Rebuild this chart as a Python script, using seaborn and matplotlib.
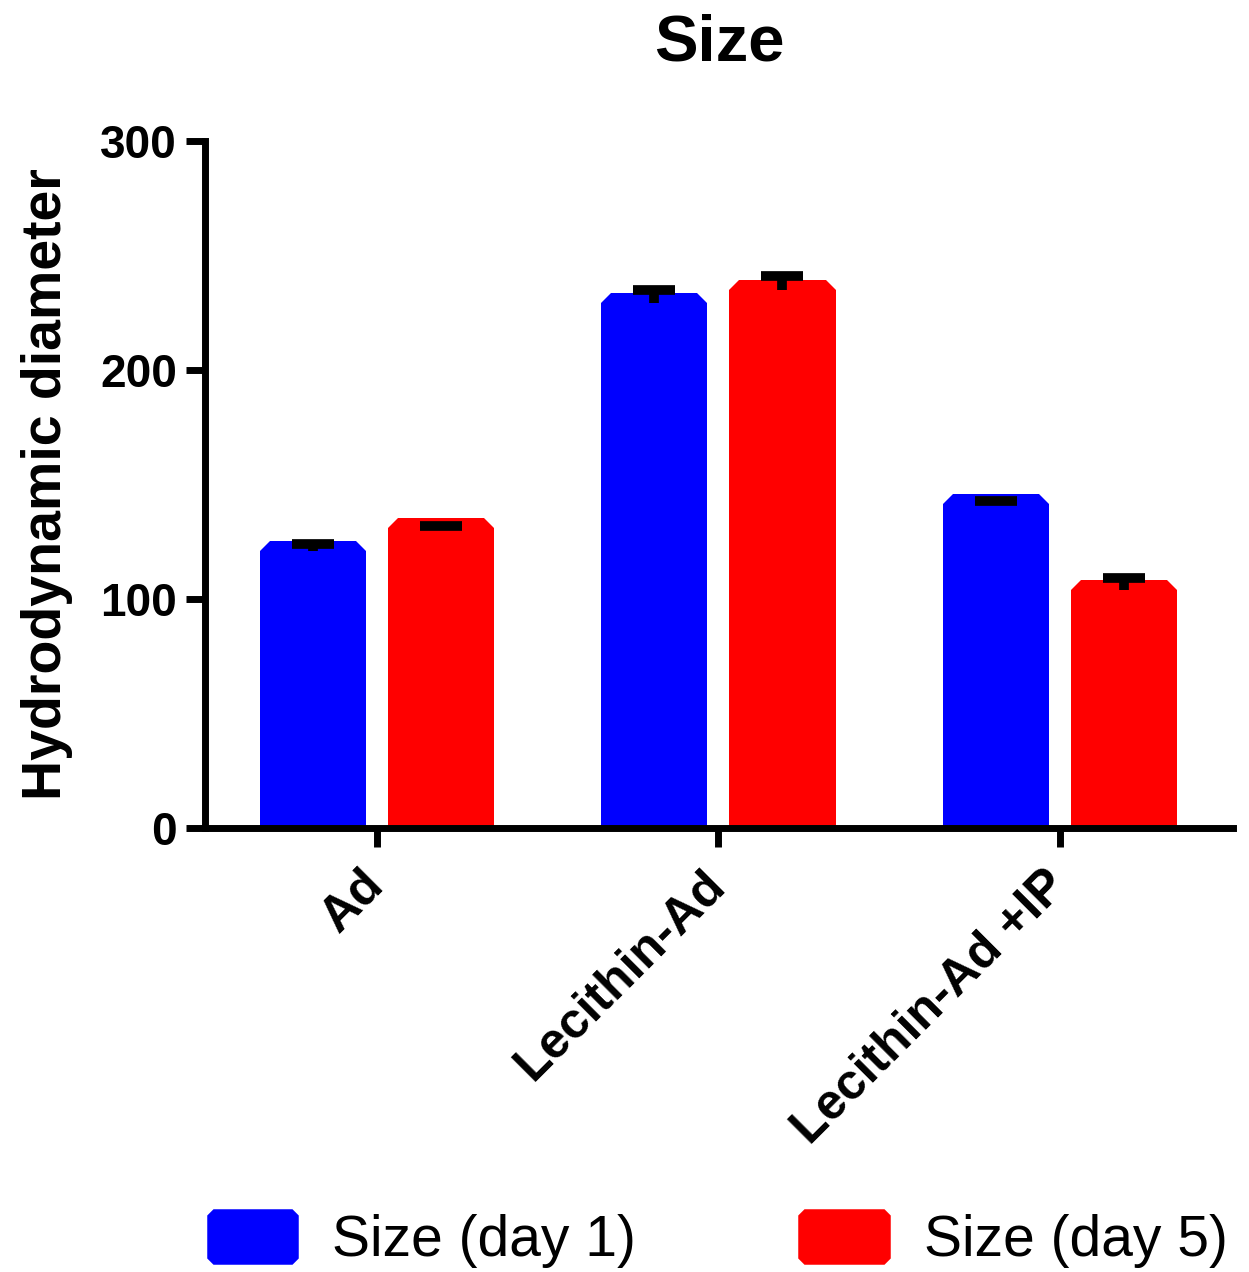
import pandas as pd
import seaborn as sns
import numpy as np
import matplotlib.pyplot as plt
from matplotlib.patches import Patch


groups = ["Ad", "Lecithin-Ad", "Lecithin-Ad +IP"]
series = ["Size (day 1)", "Size (day 5)"]
day1_mean = [121.0, 229.1, 141.7]
day1_sd = [2.9, 5.9, 1.1]
day5_mean = [130.8, 234.9, 103.9]
day5_sd = [1.0, 6.0, 5.1]
colors = ["#0000FF", "#FF0000"]
yticks = [0, 100, 200, 300]


sns.set_style("ticks")
plt.rcParams['font.family'] = ['Liberation Sans', 'DejaVu Sans']
plt.rcParams['text.color'] = 'black'
plt.rcParams['axes.labelcolor'] = 'black'

df = pd.DataFrame({
	'Group': groups * 2,
	'Series': [series[0]] * 3 + [series[1]] * 3,
	'Size': day1_mean + day5_mean,
})

fig = plt.figure(figsize=(12.49, 12.72), dpi=100)
ax = fig.add_axes([205/1249, 1 - 828/1272, (1233 - 205)/1249, (828 - 141)/1272])

sns.barplot(data=df, x='Group', y='Size', hue='Series', palette=colors,
	width=0.751, gap=0.328, saturation=1, errorbar=None, legend=False,
	linewidth=14.4, joinstyle='bevel', ax=ax)

# bars get a thick edge of their own colour -> chamfered corners
for p in ax.patches:
	p.set_edgecolor(p.get_facecolor())
	p.set_joinstyle('bevel')

# error bars: only the upper half, cap on top
for cont, means, sds in zip(ax.containers, [day1_mean, day5_mean], [day1_sd, day5_sd]):
	xs = [b.get_x() + b.get_width()/2 for b in cont]
	means = np.array(means)
	sds = np.array(sds)
	ax.errorbar(xs, means, yerr=[np.zeros_like(sds), sds], fmt='none',
		ecolor='black', elinewidth=7, capsize=0, zorder=3)
	ax.plot(xs, means + sds, ls='none', marker='_', ms=30, mew=7,
		color='black', zorder=3)

ax.set_xlim(-0.503, 2.507)
ax.set_ylim(0, 300)
ax.set_yticks(yticks)
ax.set_yticklabels([str(t) for t in yticks], fontsize=33, fontweight='bold')
ax.set_xticks(range(len(groups)))
ax.set_xticklabels(groups, rotation=45, ha='right', va='center',
	rotation_mode='anchor', fontsize=36, fontweight='bold')
ax.set_xlabel('')
ax.set_ylabel('Hydrodynamic diameter', fontsize=40, fontweight='bold',
	labelpad=20, color='black')
ax.set_title('Size', fontsize=47, fontweight='bold', pad=58, color='black')

for s in ['left', 'bottom']:
	ax.spines[s].set_linewidth(5)
	ax.spines[s].set_color('black')
sns.despine(ax=ax)
ax.tick_params(axis='both', width=5, length=14, color='black', labelcolor='black')
ax.tick_params(axis='y', pad=6)
ax.tick_params(axis='x', pad=22)

handles = [Patch(facecolor=c, edgecolor=c, linewidth=9, joinstyle='bevel') for c in colors]
leg = fig.legend(handles, series, loc='center', bbox_to_anchor=(720/1249, 1 - 1241/1272),
	ncol=2, frameon=False, fontsize=41, handlelength=1.4, handleheight=0.78,
	handletextpad=0.7, columnspacing=2.95)
for h in leg.legend_handles:
	h.set_joinstyle('bevel')
	h.set_linewidth(9)

fig.savefig('out.png', dpi=100)
